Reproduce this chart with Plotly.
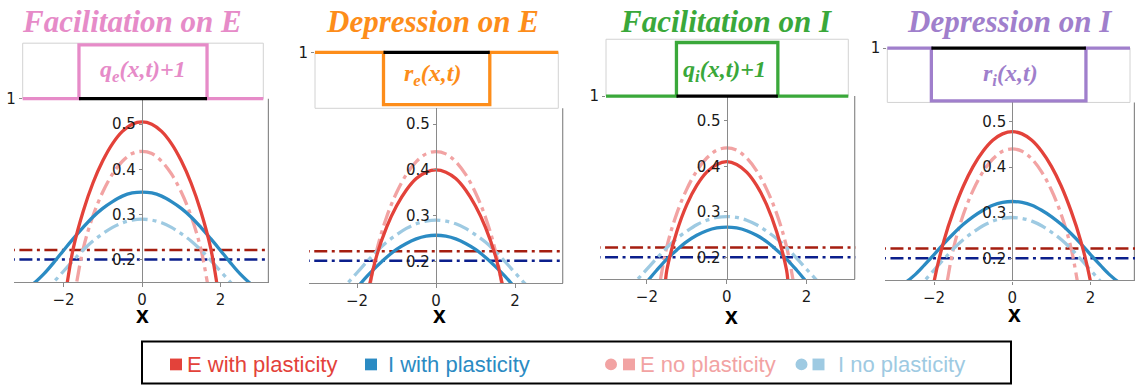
import plotly.graph_objects as go

W, H = 1135, 389

# ---------------- data ----------------
X_HALF = [0.0, 0.25, 0.5, 0.75, 1.0, 1.25, 1.5, 1.75, 2.0, 2.25, 2.5, 2.75, 3.0, 3.25]

E_NO = [0.440, 0.435, 0.418, 0.390, 0.350, 0.297, 0.224, 0.109, 0.0, 0.0, 0.0, 0.0, 0.0, 0.0]
I_NO = [0.290, 0.288, 0.282, 0.272, 0.258, 0.242, 0.222, 0.199, 0.175, 0.151, 0.128, 0.108, 0.096, 0.095]

E_FAC_E = [0.505, 0.500, 0.484, 0.457, 0.419, 0.370, 0.307, 0.226, 0.101, 0.0, 0.0, 0.0, 0.0, 0.0]
I_FAC_E = [0.350, 0.348, 0.341, 0.329, 0.314, 0.295, 0.272, 0.247, 0.221, 0.194, 0.169, 0.149, 0.137, 0.137]
E_DEP_E = [0.400, 0.395, 0.381, 0.356, 0.321, 0.275, 0.213, 0.121, 0.0, 0.0, 0.0, 0.0, 0.0, 0.0]
I_DEP_E = [0.257, 0.255, 0.249, 0.239, 0.226, 0.209, 0.189, 0.167, 0.142, 0.115, 0.087, 0.060, 0.039, 0.037]
E_FAC_I = [0.410, 0.404, 0.387, 0.358, 0.316, 0.257, 0.173, 0.0, 0.0, 0.0, 0.0, 0.0, 0.0, 0.0]
I_FAC_I = [0.267, 0.265, 0.259, 0.249, 0.235, 0.217, 0.197, 0.173, 0.147, 0.119, 0.090, 0.061, 0.037, 0.035]
E_DEP_I = [0.478, 0.473, 0.459, 0.435, 0.402, 0.359, 0.305, 0.239, 0.150, 0.0, 0.0, 0.0, 0.0, 0.0]
I_DEP_I = [0.325, 0.323, 0.317, 0.306, 0.292, 0.275, 0.255, 0.233, 0.209, 0.186, 0.164, 0.147, 0.137, 0.136]

E_PLASTIC = [E_FAC_E, E_DEP_E, E_FAC_I, E_DEP_I]
I_PLASTIC = [I_FAC_E, I_DEP_E, I_FAC_I, I_DEP_I]

THRESH_E = 0.222
THRESH_I = 0.201

TITLES = ["Facilitation on E", "Depression on E", "Facilitation on I", "Depression on I"]
INSET_LABELS = ["q<sub>e</sub>(x,t)+1", "r<sub>e</sub>(x,t)", "q<sub>i</sub>(x,t)+1", "r<sub>i</sub>(x,t)"]
STEP_HALF = [1.73, 1.42, 1.36, 2.07]
STEP_LEVEL = [2, 0, 2, 0]
BASE_LEVEL = 1
X_TICKS = [-2, 0, 2]
Y_TICKS = [0.2, 0.3, 0.4, 0.5]
LEGEND_LABELS = ["E with plasticity", "I with plasticity", "E no plasticity", "I no plasticity"]

# ---------------- styles ----------------
C_RED = "#e3423a"
C_BLUE = "#2b8bc3"
C_PINK = "#f2a3a3"
C_LBLUE = "#9ecae2"
C_DRED = "#a51e10"
C_NAVY = "#0b1f8c"
TITLE_COLORS = ["#e68bc8", "#fd8d1a", "#3aa83a", "#a07fcc"]
AX_GRAY = "#8a8a8a"
FRAME_GRAY = "#d2d2d2"

# pixel layout of the main panels
MAIN = [
    dict(l=14, r=269, b=284, t=96.7, x0=142, xs=39.25, y02=261.3, ys=462),
    dict(l=309, r=563.3, b=285, t=106.5, x0=436, xs=39.5, y02=262.7, ys=466.7),
    dict(l=600, r=855.3, b=281, t=94, x0=726.7, xs=39.9, y02=259, ys=466.7),
    dict(l=885, r=1135, b=282.3, t=100.5, x0=1012.3, xs=39.1, y02=260, ys=466.7),
]
# pixel layout of the insets: frame box, pixel of baseline (1) and of step level
INSET = [
    dict(l=22.7, r=263.3, t=40, b=96.7, p_base=96.7, p_step=41.7),
    dict(l=315, r=558.3, t=49.3, b=106.5, p_base=49.3, p_step=102.7),
    dict(l=606, r=848.3, t=36, b=94, p_base=94, p_step=39.3),
    dict(l=887.3, r=1130, t=45, b=100.5, p_base=45, p_step=99),
]
INSET_XR = 3.25
TITLE_POS = [(132, 18), (432, 18), (726, 18), (1009, 18)]
LABEL_POS = [(143, 68), (432, 72), (724, 68), (1010, 72)]
XLAB_POS = [(142, 318), (439, 318), (731, 319), (1014, 317)]


def px(p):
    return p / W


def py(p):
    return 1 - p / H


def mirror_x(xs):
    return [-v for v in reversed(xs[1:])] + list(xs)


def mirror_y(vs):
    return list(reversed(vs[1:])) + list(vs)


XF = mirror_x(X_HALF)

fig = go.Figure()
layout = dict(
    width=W, height=H, margin=dict(l=0, r=0, t=0, b=0),
    paper_bgcolor="white", plot_bgcolor="rgba(0,0,0,0)", showlegend=False,
)
shapes = []
annotations = []

tickfont = dict(family="DejaVu Sans", size=15, color="#1a1a1a")

for i in range(4):
    m = MAIN[i]
    km = 2 * i + 1
    ki = 2 * i + 2
    xm = "x" if km == 1 else f"x{km}"
    ym = "y" if km == 1 else f"y{km}"
    xi, yi = f"x{ki}", f"y{ki}"
    xr = [(m["l"] - m["x0"]) / m["xs"], (m["r"] - m["x0"]) / m["xs"]]
    yr = [0.2 - (m["b"] - m["y02"]) / m["ys"], 0.2 + (m["y02"] - m["t"]) / m["ys"]]

    # horizontal threshold lines
    for val, col in [(THRESH_E, C_DRED), (THRESH_I, C_NAVY)]:
        fig.add_trace(go.Scatter(x=[xr[0] - 0.5, xr[1] + 0.5], y=[val, val], mode="lines",
                                 line=dict(color=col, width=2.5, dash="13px,4.5px,3px,4.5px"),
                                 xaxis=xm, yaxis=ym, hoverinfo="skip"))
    # no plasticity curves
    for vals, col in [(E_NO, C_PINK), (I_NO, C_LBLUE)]:
        fig.add_trace(go.Scatter(x=XF, y=mirror_y(vals), mode="lines",
                                 line=dict(color=col, width=3.3, shape="spline",
                                           dash="16px,5px,4px,5px"),
                                 xaxis=xm, yaxis=ym, hoverinfo="skip"))
    # with plasticity curves
    for vals, col in [(I_PLASTIC[i], C_BLUE), (E_PLASTIC[i], C_RED)]:
        fig.add_trace(go.Scatter(x=XF, y=mirror_y(vals), mode="lines",
                                 line=dict(color=col, width=3.3, shape="spline"),
                                 xaxis=xm, yaxis=ym, hoverinfo="skip"))

    layout["xaxis" if km == 1 else f"xaxis{km}"] = dict(
        domain=[px(m["l"]), px(m["r"])], range=xr, anchor=ym,
        tickvals=X_TICKS, ticks="outside", ticklen=3.5, tickcolor=AX_GRAY,
        showline=True, linecolor=AX_GRAY, linewidth=1.2, showgrid=False, zeroline=False,
        tickfont=tickfont, fixedrange=True,
    )
    layout[f"yaxis{km}" if km > 1 else "yaxis"] = dict(
        domain=[py(m["b"]), py(m["t"])], range=yr, anchor="free", position=px(m["x0"]),
        tickvals=Y_TICKS, tickformat=".1f", ticks="outside", ticklen=3, tickcolor=AX_GRAY,
        showline=True, linecolor=AX_GRAY, linewidth=1.2, showgrid=False, zeroline=False,
        tickfont=tickfont, fixedrange=True,
    )
    # right spine
    shapes.append(dict(type="line", xref="paper", yref="paper",
                       x0=px(m["r"] - 0.6), x1=px(m["r"] - 0.6), y0=py(m["b"]), y1=py(m["t"]),
                       line=dict(color=AX_GRAY, width=1.2), layer="below"))

    # ---------- inset ----------
    s = INSET[i]
    top_px = min(s["t"], s["p_base"], s["p_step"]) - 5
    bot_px = max(s["b"], s["p_base"], s["p_step"]) + 5
    lev = STEP_LEVEL[i]
    per_px = (lev - BASE_LEVEL) / (s["p_base"] - s["p_step"])
    yi_range = [BASE_LEVEL - (bot_px - s["p_base"]) * per_px,
                BASE_LEVEL + (s["p_base"] - top_px) * per_px]
    yi_range = sorted(yi_range)
    h = STEP_HALF[i]
    sx = [-INSET_XR - 0.2, -h, -h, h, h, INSET_XR + 0.2]
    sy = [BASE_LEVEL, BASE_LEVEL, lev, lev, BASE_LEVEL, BASE_LEVEL]
    fig.add_trace(go.Scatter(x=sx, y=sy, mode="lines",
                             line=dict(color=TITLE_COLORS[i], width=3.3),
                             xaxis=xi, yaxis=yi, hoverinfo="skip"))
    fig.add_trace(go.Scatter(x=[-h, h], y=[BASE_LEVEL, BASE_LEVEL], mode="lines",
                             line=dict(color="black", width=3.3),
                             xaxis=xi, yaxis=yi, hoverinfo="skip"))
    layout[f"xaxis{ki}"] = dict(domain=[px(s["l"]), px(s["r"])], range=[-INSET_XR, INSET_XR],
                                anchor=yi, visible=False, fixedrange=True)
    layout[f"yaxis{ki}"] = dict(domain=[py(bot_px), py(top_px)], range=yi_range, anchor=xi,
                                tickvals=[BASE_LEVEL], ticks="outside", ticklen=3,
                                tickcolor=AX_GRAY, showline=False, showgrid=False,
                                zeroline=False, tickfont=dict(family="DejaVu Sans", size=15,
                                                              color="#1a1a1a"),
                                fixedrange=True)
    shapes.append(dict(type="rect", xref="paper", yref="paper",
                       x0=px(s["l"]), x1=px(s["r"]), y0=py(s["b"]), y1=py(s["t"]),
                       line=dict(color=FRAME_GRAY, width=1), fillcolor="rgba(0,0,0,0)",
                       layer="below"))

    # texts
    annotations.append(dict(text=f"<b><i>{TITLES[i]}</i></b>", x=px(TITLE_POS[i][0]),
                            y=py(TITLE_POS[i][1]), xref="paper", yref="paper",
                            xanchor="center", yanchor="middle", showarrow=False,
                            font=dict(family="Liberation Serif", size=31, color=TITLE_COLORS[i])))
    annotations.append(dict(text=f"<b><i>{INSET_LABELS[i]}</i></b>", x=px(LABEL_POS[i][0]),
                            y=py(LABEL_POS[i][1]), xref="paper", yref="paper",
                            xanchor="center", yanchor="middle", showarrow=False,
                            font=dict(family="Liberation Serif", size=24, color=TITLE_COLORS[i])))
    annotations.append(dict(text="<b>x</b>", x=px(XLAB_POS[i][0]), y=py(XLAB_POS[i][1]),
                            xref="paper", yref="paper", xanchor="center", yanchor="middle",
                            showarrow=False,
                            font=dict(family="Liberation Sans", size=23, color="black")))

# ---------------- legend (drawn by hand) ----------------
shapes.append(dict(type="rect", xref="paper", yref="paper", x0=px(142), x1=px(1011),
                   y0=py(387.5), y1=py(344.5), line=dict(color="black", width=2),
                   fillcolor="rgba(0,0,0,0)", layer="above"))
LEG_COLORS = [C_RED, C_BLUE, C_PINK, C_LBLUE]
LEG_SQUARES = [170, 365, 623, 812.5]
LEG_CIRCLES = [None, None, 605, 795.5]
LEG_TEXT_X = [185, 386, 638, 836]
for j in range(4):
    c = LEG_COLORS[j]
    sxp = LEG_SQUARES[j]
    shapes.append(dict(type="rect", xref="paper", yref="paper", x0=px(sxp), x1=px(sxp + 12),
                       y0=py(374), y1=py(362), fillcolor=c, line=dict(width=0)))
    if LEG_CIRCLES[j] is not None:
        cx = LEG_CIRCLES[j]
        shapes.append(dict(type="circle", xref="paper", yref="paper", x0=px(cx), x1=px(cx + 12),
                           y0=py(374), y1=py(362), fillcolor=c, line=dict(width=0)))
    annotations.append(dict(text=LEGEND_LABELS[j], x=px(LEG_TEXT_X[j]), y=py(368.5),
                            xref="paper", yref="paper", xanchor="left", yanchor="middle",
                            showarrow=False,
                            font=dict(family="Liberation Sans", size=22, color=c)))

layout["shapes"] = shapes
layout["annotations"] = annotations
fig.update_layout(**layout)
fig.write_html("out.html")
